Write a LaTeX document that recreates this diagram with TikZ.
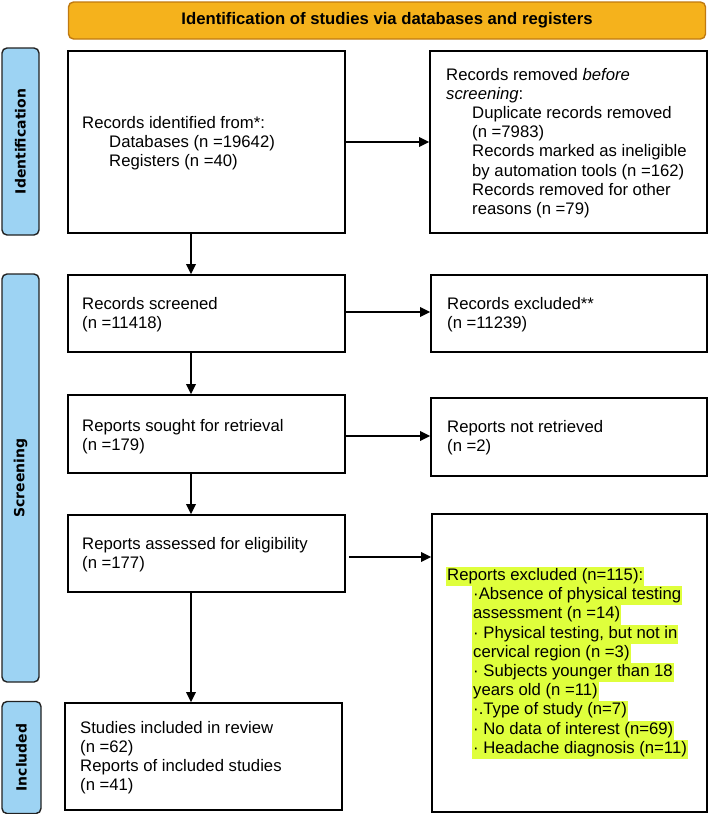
\documentclass[tikz,border=0pt]{standalone}
\usepackage{fontspec}
\setmainfont{Liberation Sans}
\newfontfamily\tabfont{DejaVu Sans}
\usetikzlibrary{arrows.meta}
\definecolor{bannerfill}{HTML}{F5B21C}
\definecolor{bannerdraw}{HTML}{C07A10}
\definecolor{tabfill}{HTML}{9DD3F3}
\definecolor{tabdraw}{HTML}{222222}
\definecolor{hl}{HTML}{DFFF3C}
\newcommand{\hlt}[1]{{\fboxsep=0pt\colorbox{hl}{\strut\hspace{1pt}#1\hspace{1pt}}}}
\begin{document}
\begin{tikzpicture}[x=1pt,y=-1pt,
  box/.style={draw=black,line width=1.6pt,fill=white,inner sep=0pt},
  txt/.style={anchor=west,align=left,inner sep=0pt,font=\fontsize{16.7}{19.2}\selectfont},
  tab/.style={draw=tabdraw,fill=tabfill,line width=1.4pt,rounded corners=5pt},
  tabtxt/.style={rotate=90,font=\tabfont\bfseries\fontsize{14}{16}\selectfont,inner sep=0pt},
  arr/.style={line width=1.8pt,-{Triangle[length=10pt,width=9.5pt]}}]
\useasboundingbox (0,0) rectangle (709,814);
% banner
\node[draw=bannerdraw,fill=bannerfill,line width=1.4pt,rounded corners=5pt,
  minimum width=637pt,minimum height=37pt,inner sep=0pt,
  font=\bfseries\fontsize{16.7}{19}\selectfont] (banner) at (387,20.5)
  {Identification of studies via databases and registers};
% side tabs
\node[tab,minimum width=37pt,minimum height=187pt] (tid) at (20.5,141.5) {};
\node[tabtxt] (tidt) at (tid.center) {Identification};
\node[tab,minimum width=37pt,minimum height=408pt] (tsc) at (20.5,478) {};
\node[tabtxt] (tsct) at (tsc.center) {Screening};
\node[tab,minimum width=39pt,minimum height=112pt] (tin) at (21.5,757.5) {};
\node[tabtxt] (tint) at (tin.center) {Included};
% left boxes
\node[box,minimum width=277pt,minimum height=182pt] (B1) at (206.5,142) {};
\node[box,minimum width=277pt,minimum height=77pt] (B2) at (206.5,313.5) {};
\node[box,minimum width=277pt,minimum height=78pt] (B3) at (206.5,434) {};
\node[box,minimum width=277pt,minimum height=77pt] (B4) at (206.5,553.5) {};
\node[box,minimum width=277pt,minimum height=107pt] (B5) at (203.5,756.5) {};
% right boxes
\node[box,minimum width=277pt,minimum height=182pt] (R1) at (568.5,142) {};
\node[box,minimum width=276pt,minimum height=77pt] (R2) at (569,313.5) {};
\node[box,minimum width=276pt,minimum height=78pt] (R3) at (569,437) {};
\node[box,minimum width=275pt,minimum height=298pt] (R4) at (569.5,663) {};
% texts
\node[txt] (B1t) at (82,143) {Records identified from*:\\\hspace*{27pt}Databases (n =19642)\\\hspace*{27pt}Registers (n =40)};
\node[txt] (R1t) at (446,143) {Records removed \textit{before}\\\textit{screening}:\\
  \hspace*{26pt}Duplicate records removed\\\hspace*{26pt}(n =7983)\\
  \hspace*{26pt}Records marked as ineligible\\\hspace*{26pt}by automation tools (n =162)\\
  \hspace*{26pt}Records removed for other\\\hspace*{26pt}reasons (n =79)};
\node[txt] (B2t) at (82,314.5) {Records screened\\(n =11418)};
\node[txt] (R2t) at (447,314.5) {Records excluded**\\(n =11239)};
\node[txt] (B3t) at (82,437) {Reports sought for retrieval\\(n =179)};
\node[txt] (R3t) at (447,437.5) {Reports not retrieved\\(n =2)};
\node[txt] (B4t) at (82,554.5) {Reports assessed for eligibility\\(n =177)};
\node[txt] (B5t) at (80,757.5) {Studies included in review\\(n =62)\\Reports of included studies\\(n =41)};
\node[txt] (R4t) at (446,663) {\hlt{Reports excluded (n=115):}\\
  \hspace*{26pt}\hlt{·Absence of physical testing}\\
  \hspace*{26pt}\hlt{assessment (n =14)}\\
  \hspace*{26pt}\hlt{· Physical testing, but not in}\\
  \hspace*{26pt}\hlt{cervical region (n =3)}\\
  \hspace*{26pt}\hlt{· Subjects younger than 18}\\
  \hspace*{26pt}\hlt{years old (n =11)}\\
  \hspace*{26pt}\hlt{·.Type of study (n=7)}\\
  \hspace*{26pt}\hlt{· No data of interest (n=69)}\\
  \hspace*{26pt}\hlt{· Headache diagnosis (n=11)}};
% connectors
\coordinate (ax) at (191,0);
\draw[arr] (B1.east) -- (R1.west);
\draw[arr] (B1.south -| ax) -- (B2.north -| ax);
\draw[arr] (B2.east |- 0,312) -- (R2.west |- 0,312);
\draw[arr] (B2.south -| ax) -- (B3.north -| ax);
\draw[arr] (B3.east |- 0,436) -- (R3.west |- 0,436);
\draw[arr] (B3.south -| ax) -- (B4.north -| ax);
\draw[arr] ([xshift=3pt]B4.east |- 0,557) -- (R4.west |- 0,557);
\draw[arr] (B4.south -| ax) -- (B5.north -| ax);
\end{tikzpicture}
\end{document}
